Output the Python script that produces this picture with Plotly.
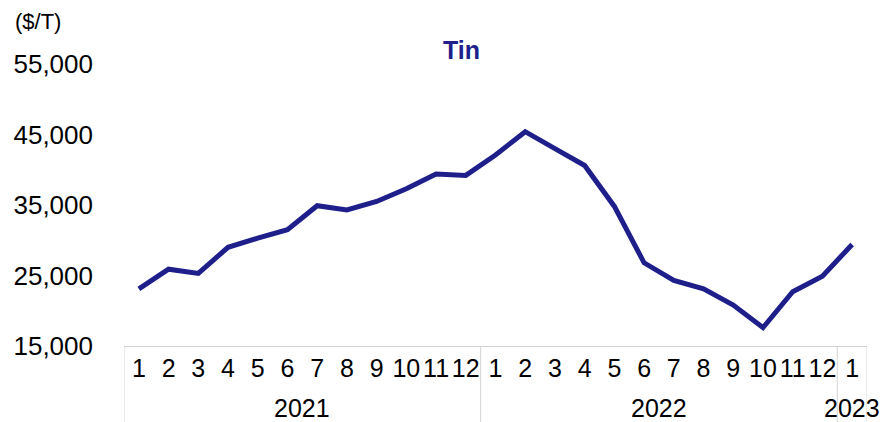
import plotly.graph_objects as go

# Monthly tin price, Jan 2021 – Jan 2023
years = ["2021"] * 12 + ["2022"] * 12 + ["2023"]
months = ["1", "2", "3", "4", "5", "6", "7", "8", "9", "10", "11", "12",
          "1", "2", "3", "4", "5", "6", "7", "8", "9", "10", "11", "12",
          "1"]
tin_price = [23100, 25900, 25300, 29000, 30300, 31500, 34900, 34300, 35500,
             37300, 39400, 39200, 42100, 45400, 43000, 40600, 34800, 26800,
             24300, 23100, 20800, 17600, 22700, 24900, 29400]
y_ticks = [15000, 25000, 35000, 45000, 55000]

navy = "#1f1f8c"
axis_grey = "#d4d4d4"
font_family = "Liberation Sans, Arial, sans-serif"

plot_h = 422 - 64 - 76  # height of the plotting area in px
idx = list(range(len(months)))

# Year groups: first/last index of each year
groups = []
for i, yr in enumerate(years):
    if groups and groups[-1][0] == yr:
        groups[-1][2] = i
    else:
        groups.append([yr, i, i])

fig = go.Figure(
    go.Scatter(
        x=idx,
        y=tin_price,
        mode="lines",
        line=dict(color=navy, width=5),
        hoverinfo="skip",
    )
)

annotations = [
    dict(
        text="($/T)",
        xref="paper", yref="paper",
        x=-111 / 743, y=1 + 42 / plot_h,
        xanchor="left", yanchor="middle",
        showarrow=False,
        font=dict(family=font_family, size=22, color="black"),
    )
]
shapes = []
for yr, start, end in groups:
    # year label centred under its months
    annotations.append(dict(
        text=yr,
        xref="x", yref="paper",
        x=(start + end) / 2, y=-62 / plot_h,
        xanchor="center", yanchor="middle",
        showarrow=False,
        font=dict(family=font_family, size=25, color="black"),
    ))
    # divider on the left edge of each year group
    shapes.append(dict(
        type="line", xref="x", yref="paper",
        x0=start - 0.5, x1=start - 0.5, y0=0, y1=-76 / plot_h,
        line=dict(color=axis_grey, width=1),
    ))
# closing divider on the right edge
shapes.append(dict(
    type="line", xref="x", yref="paper",
    x0=groups[-1][2] + 0.5, x1=groups[-1][2] + 0.5, y0=0, y1=-76 / plot_h,
    line=dict(color=axis_grey, width=1),
))

fig.update_layout(
    width=884,
    height=422,
    margin=dict(l=124, r=17, t=64, b=76),
    paper_bgcolor="white",
    plot_bgcolor="white",
    showlegend=False,
    font=dict(family=font_family, color="black", size=24),
    title=dict(
        text="<b>Tin</b>",
        x=0.522,
        xanchor="center",
        y=0.882,
        yanchor="middle",
        font=dict(family=font_family, size=25, color=navy),
    ),
    annotations=annotations,
    shapes=shapes,
)

fig.update_xaxes(
    range=[-0.5, len(months) - 0.5],
    tickvals=idx,
    ticktext=months,
    automargin=False,
    tickangle=0,
    showline=True,
    linecolor=axis_grey,
    linewidth=1,
    showgrid=False,
    zeroline=False,
    ticks="",
    tickfont=dict(family=font_family, size=25, color="black"),
)

fig.update_yaxes(
    range=[15000, 55000],
    tickvals=y_ticks,
    tickformat=",",
    showgrid=False,
    showline=False,
    zeroline=False,
    ticks="",
    ticklabelstandoff=30,
    automargin=False,
    tickfont=dict(family=font_family, size=26, color="black"),
)

fig.write_html("out.html")
